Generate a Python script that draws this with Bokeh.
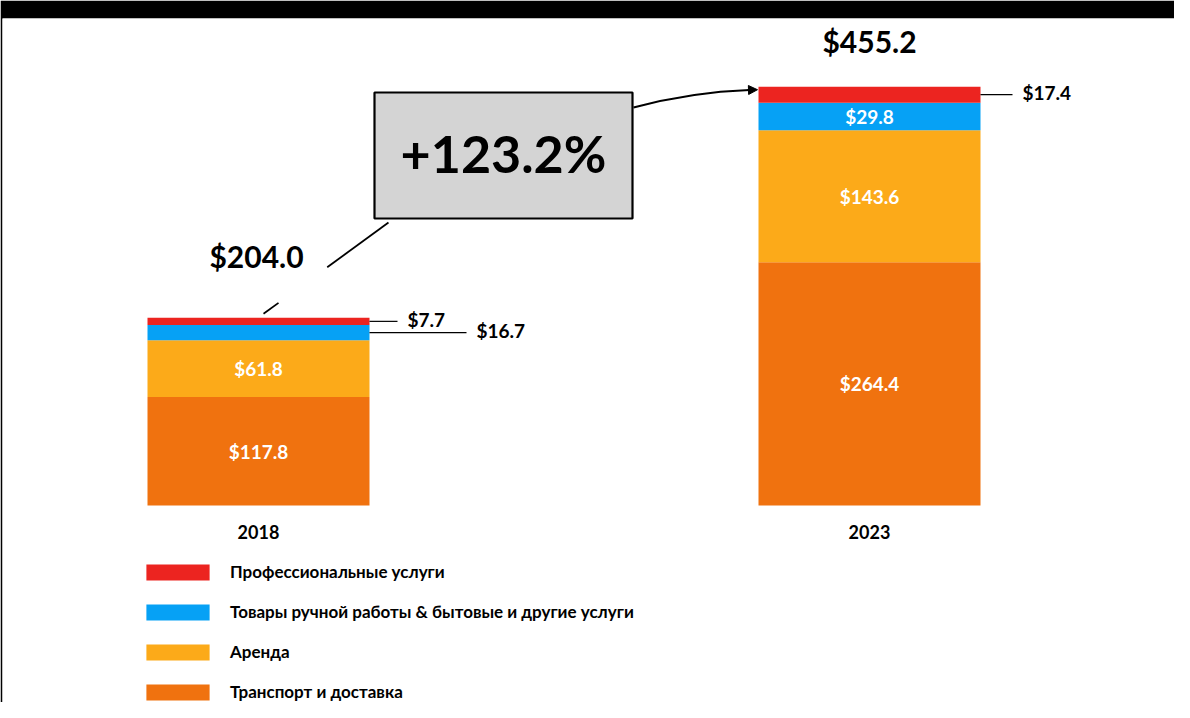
from bokeh.plotting import figure
from bokeh.models import (ColumnDataSource, Range1d, Legend, LegendItem, Arrow, NormalHead)
from bokeh.core.properties import value
from bokeh.embed import file_html
from bokeh.resources import INLINE

# ---------------- data ----------------
years = ["2018", "2023"]
transport = [117.8, 264.4]      # Транспорт и доставка
rent = [61.8, 143.6]            # Аренда
handmade = [16.7, 29.8]         # Товары ручной работы & бытовые и другие услуги
professional = [7.7, 17.4]      # Профессиональные услуги
totals = [204.0, 455.2]
growth_label = "+123.2%"

series_names = ["Транспорт и доставка", "Аренда",
                "Товары ручной работы & бытовые и другие услуги",
                "Профессиональные услуги"]
series_keys = ["transport", "rent", "handmade", "professional"]
series_colors = ["#F0720F", "#FCAA19", "#06A1F5", "#EC2420"]
inside_label = [[True, True], [True, True], [False, True], [False, False]]

FONT = "Lato"

# ---------------- layout helpers ----------------
PX_X = 611.0      # px per x unit
PX_Y = 0.92       # px per y unit
X0PX = 258.0      # screen x of first bar centre
Y0PX = 505.0      # screen y of the baseline
xs = [0.0, 1.0]
bar_w = 222.0 / PX_X

def dx(px):
    return px / PX_X

def dy(px):
    return px / PX_Y

def sxp(px):
    return (px - X0PX) / PX_X

def syp(px):
    return (Y0PX - px) / PX_Y

W, H = 1174, 702
TOP, LEFT = 18, 2

src = ColumnDataSource(dict(x=xs, transport=transport, rent=rent,
                            handmade=handmade, professional=professional))

p = figure(width=W, height=H,
           x_range=Range1d(sxp(LEFT), sxp(W)),
           y_range=Range1d(syp(H), syp(TOP)),
           output_backend="svg", toolbar_location=None,
           x_axis_type=None, y_axis_type=None,
           min_border_left=LEFT, min_border_right=0,
           min_border_top=TOP, min_border_bottom=0,
           border_fill_color="black", background_fill_color="white",
           outline_line_color=None)
p.grid.visible = False

renderers = p.vbar_stack(series_keys, x="x", width=bar_w, source=src,
                         color=series_colors, line_color=None)

# segment labels
stack_vals = [transport, rent, handmade, professional]
leader_len = {(3, 0): 28, (2, 0): 97, (3, 1): 32}
for bi in range(2):
    base = 0.0
    for si, vals in enumerate(stack_vals):
        v = vals[bi]
        mid = base + v / 2
        txt = "$%.1f" % v
        if inside_label[si][bi]:
            p.text(x=[xs[bi]], y=[mid], text=[txt], text_color="white",
                   text_font=value(FONT), text_font_style="bold",
                   text_font_size="19px", text_align="center",
                   text_baseline="middle")
        else:
            x0 = xs[bi] + bar_w / 2
            x1 = x0 + dx(leader_len[(si, bi)])
            p.segment(x0=[x0], y0=[mid], x1=[x1], y1=[mid],
                      line_color="black", line_width=1.2)
            p.text(x=[x1 + dx(10)], y=[mid + dy(2)], text=[txt],
                   text_color="black", text_font=value(FONT),
                   text_font_style="bold", text_font_size="19px",
                   text_align="left", text_baseline="middle")
        base += v

# year labels
p.text(x=xs, y=[dy(-26)] * 2, text=years, text_color="black",
       text_font=value(FONT), text_font_style="bold", text_font_size="18px",
       text_align="center", text_baseline="middle")

# totals
p.text(x=[xs[0] - dx(2)], y=[totals[0] + dy(62)], text=["$%.1f" % totals[0]],
       text_color="black", text_font=value(FONT), text_font_style="bold",
       text_font_size="30px", text_align="center", text_baseline="middle")
p.text(x=[xs[1]], y=[totals[1] + dy(46)], text=["$%.1f" % totals[1]],
       text_color="black", text_font=value(FONT), text_font_style="bold",
       text_font_size="30px", text_align="center", text_baseline="middle")

# growth box
box_l, box_r = sxp(374), sxp(632)
box_t, box_b = syp(92), syp(218)
p.quad(left=[box_l], right=[box_r], top=[box_t], bottom=[box_b],
       fill_color="#D4D4D4", line_color="black", line_width=2.2)
p.text(x=[(box_l + box_r) / 2], y=[(box_t + box_b) / 2 + dy(3)], text=[growth_label],
       text_color="black", text_font=value(FONT), text_font_style="bold",
       text_font_size="52px", text_align="center", text_baseline="middle")

# connector from 2018 bar to box (broken around the total label)
sx, sy = xs[0] + dx(5), totals[0] + dy(4)
ex, ey = sxp(388), syp(222)
def lerp(t):
    return sx + (ex - sx) * t, sy + (ey - sy) * t
a0 = lerp(0.0); a1 = lerp(0.12)
b0 = lerp(0.51); b1 = lerp(1.0)
p.segment(x0=[a0[0], b0[0]], y0=[a0[1], b0[1]], x1=[a1[0], b1[0]], y1=[a1[1], b1[1]],
          line_color="black", line_width=1.8)

# curved arrow from box to 2023 bar
end_x = xs[1] - bar_w / 2 - dx(1)
end_y = totals[1] - dy(3)
p.quadratic(x0=[box_r + dx(1)], y0=[syp(107)],
            x1=[end_x - dx(8)], y1=[end_y - dy(0.3)],
            cx=[sxp(691)], cy=[syp(91.5)],
            line_color="black", line_width=2)
p.add_layout(Arrow(end=NormalHead(size=9, fill_color="black", line_color="black"),
                   x_start=end_x - dx(10), y_start=end_y - dy(0.3),
                   x_end=end_x, y_end=end_y,
                   line_color="black", line_width=2))

# legend (top to bottom: professional, handmade, rent, transport)
items = [LegendItem(label=series_names[i], renderers=[renderers[i]]) for i in [3, 2, 1, 0]]
legend = Legend(items=items, location=(136, 0), orientation="vertical",
                glyph_width=79, glyph_height=20, label_standoff=13,
                spacing=19, padding=0, margin=0, label_height=20,
                border_line_color=None, background_fill_alpha=0,
                label_text_font=FONT, label_text_font_style="bold",
                label_text_font_size="17px", label_text_color="black",
                label_text_baseline="middle")
p.add_layout(legend, "center")

open("out.html", "w").write(file_html(p, INLINE))
